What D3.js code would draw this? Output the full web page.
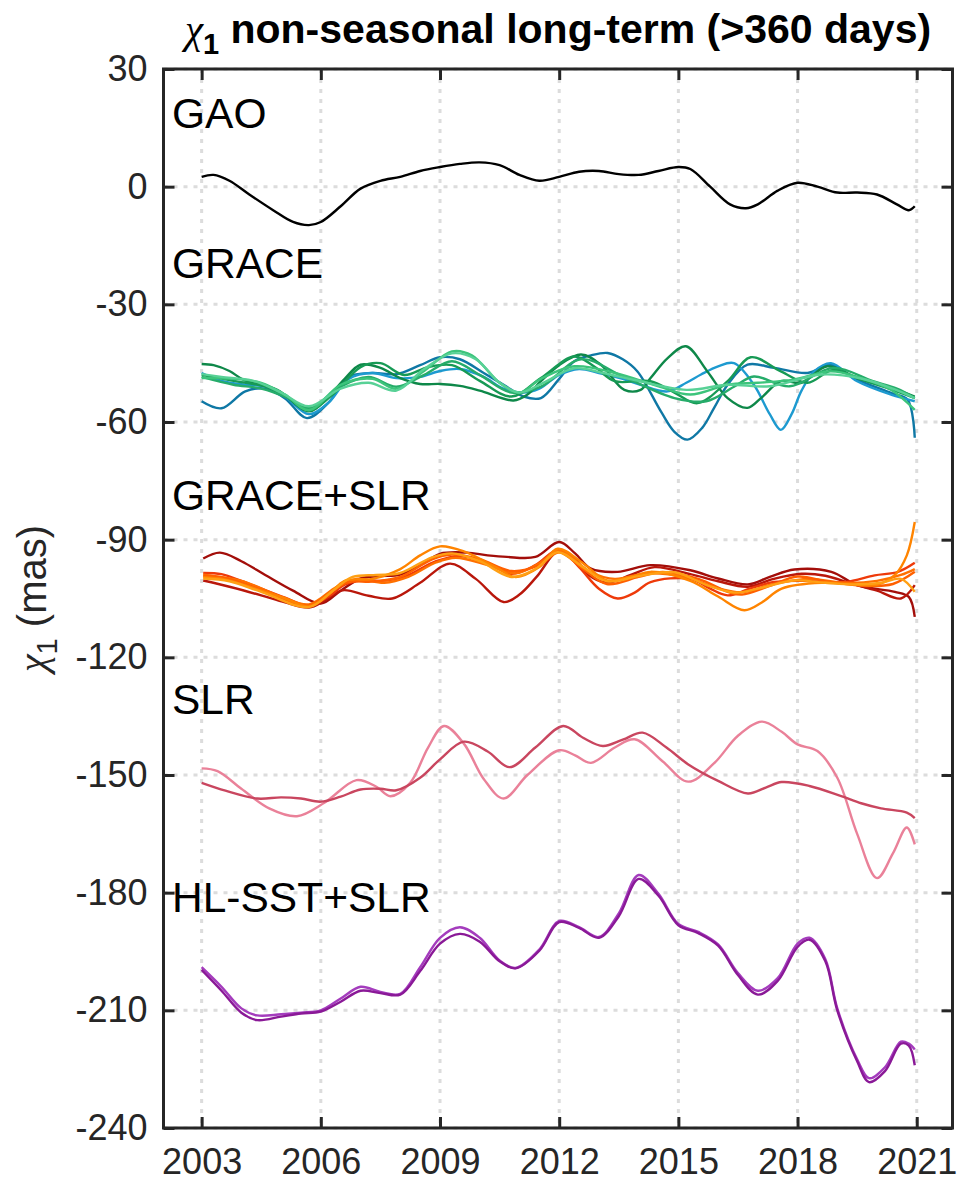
<!DOCTYPE html>
<html>
<head>
<meta charset="utf-8">
<script src="https://cdn.jsdelivr.net/npm/d3@7"></script>
<style>
  body { margin: 0; background: #fff; }
  text { font-family: "Liberation Sans", Arial, Helvetica, sans-serif; }
</style>
</head>
<body>
<svg id="chart"></svg>
<script>
// tick values
const xTicks = [2003, 2006, 2009, 2012, 2015, 2018, 2021];
const yTicks = [30, 0, -30, -60, -90, -120, -150, -180, -210, -240];
const groupNames = ["GAO", "GRACE", "GRACE+SLR", "SLR", "HL-SST+SLR"];

// GAO
const gao = [[2003.0,2.5],[2003.3,3.0],[2003.7,1.5],[2004.2,-2],[2004.8,-6],[2005.3,-9],[2005.7,-9.8],
  [2006.0,-9],[2006.5,-5],[2007.0,-0.5],[2007.5,1.5],[2008.0,2.5],[2008.5,4],[2009.0,5],[2009.5,5.8],
  [2010.0,6.2],[2010.5,5.5],[2011.0,3],[2011.5,1.5],[2012.0,2.5],[2012.5,3.8],[2013.0,4],[2013.5,3.2],
  [2014.0,3.0],[2014.5,4],[2015.0,5],[2015.3,4.5],[2015.8,0],[2016.3,-4.5],[2016.7,-5.5],[2017.0,-4.5],
  [2017.5,-1],[2018.0,1],[2018.5,0],[2019.0,-1.5],[2019.5,-1.5],[2020.0,-2],[2020.5,-4.5],[2020.8,-6],[2020.95,-5]];

// GRACE solutions
const grace1 = [[2003.0,-54.7],[2003.5,-56.5],[2004.1,-52.2],[2004.6,-51.5],[2005.1,-54],[2005.65,-59],[2006.2,-55],
  [2006.7,-48.5],[2007.3,-47.5],[2007.9,-47.8],[2008.5,-45.5],[2009.0,-43.5],[2009.5,-44],[2010.1,-47.5],[2010.6,-50.5],
  [2011.1,-53.5],[2011.54,-53.9],[2012.0,-49],[2012.38,-44.5],[2012.8,-43],[2013.22,-42.4],[2013.6,-44],[2013.97,-47.1],
  [2014.56,-57.3],[2014.9,-62.5],[2015.23,-64.5],[2015.6,-61.5],[2015.9,-56.4],[2016.24,-50.5],[2016.74,-45.4],
  [2017.41,-46.2],[2018.25,-47.5],[2018.84,-45.4],[2019.42,-48.8],[2020.35,-52.6],[2020.77,-54.3],[2020.95,-64]];
const grace2 = [[2003.0,-47.5],[2003.5,-49.5],[2004.1,-50.5],[2004.6,-51],[2005.1,-53.5],[2005.7,-58],[2006.2,-55],
  [2006.7,-49],[2007.3,-47.5],[2007.9,-48.8],[2008.5,-48.5],[2009.0,-47],[2009.5,-46.5],[2010.1,-48.5],[2010.6,-51.5],
  [2011.1,-52.5],[2011.5,-51.5],[2012.0,-48],[2012.5,-46.5],[2013.0,-47.5],[2013.6,-49],[2014.05,-50.5],[2014.73,-52.2],
  [2015.2,-50],[2015.57,-47.9],[2016.0,-45.8],[2016.4,-45],[2016.9,-50.5],[2017.3,-58],[2017.58,-62],[2017.85,-58],
  [2018.1,-52],[2018.42,-47.1],[2018.84,-45],[2019.5,-49.6],[2020.35,-53],[2020.95,-54.7]];
const grace3 = [[2003.0,-45.2],[2003.3,-45.5],[2003.7,-47],[2004.05,-49.2],[2004.9,-51.8],[2005.7,-57.3],[2006.15,-54],
  [2006.6,-49],[2007.0,-45.4],[2007.5,-46.2],[2008.0,-48.8],[2008.5,-50.3],[2009.0,-50.3],[2009.5,-50.8],[2010.0,-52],
  [2010.85,-54.5],[2011.2,-53],[2011.54,-49.6],[2012.0,-45.5],[2012.55,-42.8],[2013.05,-45.4],[2013.64,-51.8],
  [2014.05,-51.8],[2014.3,-48.8],[2014.73,-43.7],[2015.19,-40.7],[2015.73,-47.1],[2016.24,-53.9],[2016.74,-56.4],
  [2017.08,-53.9],[2017.58,-49.6],[2018.1,-50],[2018.75,-45.8],[2019.5,-48.8],[2020.35,-51.3],[2020.95,-53.5]];
const grace4 = [[2003.0,-48],[2003.8,-49.5],[2004.6,-51],[2005.2,-54],[2005.7,-57],[2006.3,-53],[2007.0,-46],[2007.5,-45],
  [2008.1,-48],[2008.7,-46],[2009.3,-45.5],[2010.0,-49.5],[2010.8,-53.5],[2011.54,-48.8],[2012.38,-43.3],[2012.9,-46],
  [2013.4,-49.6],[2014.3,-49.6],[2014.9,-52.5],[2015.48,-55.2],[2016.24,-49.6],[2016.82,-43.5],[2017.58,-47.1],
  [2018.25,-50],[2018.9,-46.7],[2019.6,-49.2],[2020.3,-51.5],[2020.95,-53.9]];
const grace5 = [[2003.0,-48.5],[2003.8,-50.5],[2004.5,-51.5],[2005.2,-54],[2005.7,-56.5],[2006.5,-51],[2007.2,-48.5],
  [2007.9,-51],[2008.6,-48],[2009.3,-44.5],[2010.0,-48],[2010.8,-52.5],[2011.54,-51],[2012.55,-44],[2013.6,-48.4],
  [2014.9,-53.9],[2015.7,-54.7],[2016.4,-51],[2016.9,-48.4],[2017.8,-50.9],[2018.9,-46.2],[2019.9,-49.6],[2020.5,-51.5],[2020.95,-53.9]];
const grace6 = [[2003.0,-48.8],[2003.8,-49],[2004.5,-50],[2005.1,-53],[2005.7,-57],[2006.5,-50.5],[2007.3,-49],
  [2007.9,-51.5],[2008.6,-47],[2009.3,-42],[2009.8,-43],[2010.5,-50],[2011.0,-52.5],[2011.54,-49],[2012.38,-45.8],
  [2013.4,-47.5],[2014.5,-50.9],[2015.3,-53],[2016.24,-50.5],[2017.0,-50],[2017.9,-49.2],[2018.84,-47.1],[2019.6,-48.8],
  [2020.35,-51.8],[2020.95,-56.9]];
const grace7 = [[2003.0,-47.8],[2003.5,-48.5],[2004.3,-49.5],[2005.0,-52.5],[2005.7,-56],[2006.5,-51.5],[2007.2,-50],
  [2007.9,-52],[2008.6,-46.5],[2009.3,-42.5],[2009.9,-44],[2010.5,-50],[2011.0,-52.5],[2011.6,-50],[2012.38,-46.3],
  [2013.1,-47.5],[2013.9,-49.3],[2015.2,-51.8],[2016.24,-50.5],[2017.3,-50.9],[2018.6,-47.9],[2019.6,-48.9],[2020.4,-51.5],[2020.95,-53.9]];

// GRACE+SLR solutions
const combo1 = [[2003.04,-94.8],[2003.46,-93.3],[2004.0,-95.5],[2004.6,-99],[2005.3,-103],[2006.0,-106.3],[2006.5,-103],
  [2007.0,-99.9],[2007.5,-99.3],[2008.0,-98.9],[2008.5,-96.5],[2009.0,-93.6],[2009.67,-93.3],[2010.2,-94],[2010.68,-94.4],
  [2011.4,-94.4],[2012.0,-90.6],[2012.4,-93.5],[2012.8,-97.4],[2013.47,-98.2],[2014.3,-96.5],[2015.3,-97.8],[2016.0,-99.9],
  [2016.75,-101.4],[2017.3,-99.5],[2017.92,-97.6],[2018.85,-98.2],[2019.5,-101.6],[2020.45,-103.3],[2020.8,-104.6],[2020.95,-109.7]];
const combo2 = [[2003.04,-100.4],[2003.7,-102],[2004.5,-104.2],[2005.1,-106],[2005.7,-107.3],[2006.1,-105.5],[2006.55,-102.9],
  [2007.2,-104.3],[2007.8,-105],[2008.5,-101],[2009.25,-96.1],[2009.9,-100],[2010.6,-105.9],[2011.0,-104],[2011.43,-99.5],
  [2012.0,-92.7],[2012.4,-95],[2012.7,-98.7],[2013.2,-101],[2013.8,-99],[2014.4,-97],[2015.3,-98.8],[2016.0,-100.6],
  [2016.75,-102],[2017.4,-100],[2018.1,-98.7],[2018.7,-99.2],[2019.35,-101.2],[2020.0,-103],[2020.6,-105],[2020.95,-101.6]];
const combo3 = [[2003.04,-98.5],[2003.5,-98.8],[2004.0,-100.5],[2004.5,-102.5],[2005.1,-104.8],[2005.7,-106.8],[2006.2,-104.5],
  [2006.6,-101.5],[2007.1,-100.3],[2007.5,-100.5],[2008.1,-99.5],[2008.9,-95.5],[2009.5,-94.2],[2010.2,-96],[2010.8,-98.7],
  [2011.4,-96.5],[2012.0,-92.5],[2012.5,-97],[2013.0,-102.5],[2013.47,-105],[2013.9,-103.5],[2014.3,-100.8],[2015.3,-100],
  [2015.8,-102.5],[2016.24,-104.2],[2016.8,-102.5],[2017.4,-100.8],[2018.2,-100.5],[2019.2,-100.8],[2019.94,-99.1],
  [2020.53,-98.2],[2020.95,-95.9]];
const combo4 = [[2003.04,-98.9],[2004.0,-100.5],[2005.0,-104.5],[2005.7,-106.5],[2006.4,-102],[2006.9,-100],[2007.6,-101],
  [2008.2,-99.5],[2008.9,-95.8],[2009.4,-94.6],[2010.2,-96.5],[2010.9,-98.6],[2011.5,-96],[2012.0,-92.8],[2012.8,-98.3],
  [2013.4,-100],[2014.2,-98.6],[2015.2,-99.6],[2016.0,-102.4],[2016.6,-103.4],[2017.4,-101.3],[2018.3,-100],[2019.2,-101],
  [2020.0,-100.5],[2020.6,-99],[2020.95,-97.5]];
const combo5 = [[2003.04,-99.2],[2003.6,-99.8],[2004.5,-102.8],[2005.7,-106.8],[2006.3,-103],[2006.7,-100.8],[2007.3,-100.7],
  [2008.0,-99.5],[2008.8,-95],[2009.3,-93.8],[2010.0,-95],[2010.8,-98],[2011.5,-96.5],[2012.0,-93.2],[2012.6,-97.5],
  [2013.2,-101.3],[2014.0,-99.5],[2014.6,-98.2],[2015.5,-100],[2016.3,-103.5],[2016.6,-104],[2017.3,-101.8],[2018.0,-99.4],
  [2018.8,-100.8],[2019.7,-101.8],[2020.4,-101.3],[2020.95,-98.2]];
const combo6 = [[2003.04,-99.6],[2003.6,-100.2],[2004.5,-103],[2005.1,-105],[2005.7,-107],[2006.2,-104],[2006.6,-100.5],
  [2007.3,-100],[2008.0,-97.5],[2008.5,-94],[2009.0,-91.7],[2009.6,-93],[2010.4,-97],[2010.9,-99.5],[2011.5,-97],
  [2011.96,-92.3],[2012.6,-96],[2013.2,-100.4],[2013.8,-99.5],[2014.3,-98.2],[2015.3,-100.5],[2016.0,-104.5],[2016.66,-108],
  [2017.1,-106],[2017.6,-102.5],[2018.6,-101],[2019.5,-101.5],[2020.0,-101.5],[2020.45,-99],[2020.75,-94],[2020.95,-85.5]];
const combo7 = [[2003.04,-99.9],[2003.7,-100.6],[2004.5,-103.3],[2005.7,-107.2],[2006.3,-103],[2006.8,-99.5],[2007.4,-99],
  [2008.0,-98.5],[2008.8,-94.5],[2009.3,-93.5],[2010.0,-95.5],[2010.8,-99.5],[2011.4,-97.5],[2011.96,-93.2],[2012.6,-97],
  [2013.2,-100.6],[2014.0,-99.3],[2014.9,-98.3],[2015.7,-101.5],[2016.4,-103.5],[2017.0,-102.5],[2017.9,-100.4],[2018.7,-101],
  [2019.4,-101.4],[2020.1,-101],[2020.6,-100],[2020.95,-103.3]];

// SLR solutions
const slr1 = [[2003.0,-152],[2003.6,-154],[2004.4,-156],[2005.0,-155.7],[2005.5,-156],[2006.0,-156.8],[2006.5,-155.5],
  [2007.0,-153.7],[2007.5,-153.5],[2007.9,-153.9],[2008.5,-150.7],[2009.0,-146],[2009.6,-141.5],[2010.2,-144],
  [2010.75,-148],[2011.4,-143],[2012.1,-137.5],[2012.6,-140.5],[2013.1,-142.6],[2013.6,-141],[2014.1,-139.2],
  [2014.7,-143],[2015.25,-147.3],[2016.0,-151.5],[2016.75,-154.7],[2017.2,-153.2],[2017.6,-151.8],[2018.3,-152.8],
  [2019.1,-155.4],[2019.6,-157.2],[2020.1,-158.5],[2020.75,-159.6],[2020.95,-161]];
const slr2 = [[2003.0,-148.3],[2003.4,-149],[2004.0,-153.5],[2004.7,-158.5],[2005.4,-160.5],[2006.1,-157],[2006.9,-151.3],
  [2007.4,-153],[2007.75,-155.4],[2008.25,-152],[2008.7,-143],[2009.1,-137.5],[2009.6,-142],[2010.1,-151],[2010.6,-156],
  [2011.2,-150],[2012.0,-143.7],[2012.4,-145],[2012.8,-146.9],[2013.4,-143],[2013.9,-140.9],[2014.6,-146.5],
  [2015.25,-151.7],[2015.9,-147],[2016.5,-140],[2017.1,-136.4],[2017.6,-139],[2018.0,-142.2],[2018.5,-143.9],
  [2019.0,-150.7],[2019.5,-165],[2020.0,-176.3],[2020.4,-170],[2020.75,-163.4],[2020.95,-167.7]];

// HL-SST+SLR solutions
const hl1 = [[2003.0,-199.7],[2003.5,-205],[2004.0,-210.6],[2004.4,-212.5],[2005.0,-211.6],[2005.5,-210.8],[2006.0,-210.3],
  [2006.5,-207.8],[2007.0,-205],[2007.5,-205.6],[2008.0,-206],[2008.5,-200],[2009.0,-193],[2009.5,-190.5],[2010.0,-192.5],
  [2010.5,-197.5],[2010.9,-199.3],[2011.5,-194.8],[2012.0,-187.5],[2012.5,-189],[2013.0,-191.5],[2013.5,-186],[2014.0,-176.5],
  [2014.5,-180.8],[2015.0,-188.3],[2015.5,-190.3],[2016.0,-193.5],[2016.5,-201],[2017.0,-206],[2017.5,-202.5],[2018.0,-193.8],
  [2018.3,-192],[2018.7,-197.5],[2019.0,-210],[2019.5,-223],[2019.8,-228.3],[2020.2,-225.5],[2020.6,-218.5],[2020.8,-219],[2020.95,-224]];
const hl2 = [[2003.0,-199],[2003.5,-204],[2004.0,-209.5],[2004.4,-211.3],[2005.0,-211],[2005.5,-210.6],[2006.0,-210],
  [2006.5,-207],[2007.0,-204],[2007.5,-205.3],[2008.0,-205.8],[2008.5,-199],[2009.0,-191.5],[2009.5,-188.8],[2010.0,-191.5],
  [2010.5,-197.3],[2010.9,-199.2],[2011.5,-194.5],[2012.0,-187.2],[2012.5,-188.8],[2013.0,-191.3],[2013.5,-185.3],[2014.0,-175.5],
  [2014.5,-180.3],[2015.0,-188],[2015.5,-190],[2016.0,-193.2],[2016.5,-200.5],[2017.0,-205],[2017.5,-201.8],[2018.0,-193],
  [2018.3,-191.5],[2018.7,-197],[2019.0,-209.5],[2019.5,-222.5],[2019.8,-227.3],[2020.2,-224.5],[2020.6,-218],[2020.8,-218.5],[2020.95,-220]];

const series = [
  { data: grace1, color: "#0f78a5" },
  { data: grace2, color: "#1d9ad0" },
  { data: grace3, color: "#0e8849" },
  { data: grace4, color: "#179a55" },
  { data: grace5, color: "#26ac6a" },
  { data: grace6, color: "#3cc47b" },
  { data: grace7, color: "#58d196" },
  { data: combo1, color: "#a30e0a" },
  { data: combo2, color: "#b9170b" },
  { data: combo3, color: "#ee3a0a" },
  { data: combo4, color: "#ff7000" },
  { data: combo5, color: "#ff6000" },
  { data: combo6, color: "#ff8400" },
  { data: combo7, color: "#ffa014" },
  { data: slr2, color: "#ea8199" },
  { data: slr1, color: "#c9465f" },
  { data: hl2, color: "#a43cbd" },
  { data: hl1, color: "#8a1997" },
  { data: gao, color: "#000000" },
];

const width = 960, height = 1182;
const plotL = 163.5, plotR = 952.5, plotT = 69, plotB = 1128;
const ink = "#262626";

const svg = d3.select("#chart").attr("width", width).attr("height", height);

const x = d3.scaleLinear().domain([2002.04, 2021.9]).range([plotL, plotR]);
const y = d3.scaleLinear().domain([30, -240]).range([plotT, plotB]);

// dotted grid
const grid = svg.append("g");
grid.selectAll(".vg").data(xTicks).join("line").attr("class", "vg")
  .attr("x1", d => x(d)).attr("x2", d => x(d))
  .attr("y1", plotT).attr("y2", plotB);
grid.selectAll(".hg").data(yTicks).join("line").attr("class", "hg")
  .attr("x1", plotL).attr("x2", plotR)
  .attr("y1", d => y(d)).attr("y2", d => y(d));
grid.selectAll("line")
  .attr("stroke", "#dcdcdc").attr("stroke-width", 3).attr("stroke-dasharray", "4,6");

// lines
const line = d3.line()
  .x(d => x(d[0]))
  .y(d => y(d[1]))
  .curve(d3.curveCatmullRom.alpha(0.5));

svg.append("g").selectAll("path").data(series).join("path")
  .attr("d", d => line(d.data))
  .attr("fill", "none")
  .attr("stroke", d => d.color)
  .attr("stroke-width", 2.4)
  .attr("stroke-linejoin", "round");

// axes, ticks pointing inward on all four sides
const styleAxis = (g) => {
  g.select(".domain").remove();
  g.selectAll(".tick line").attr("stroke", ink).attr("stroke-width", 3);
  g.selectAll("text").attr("fill", ink).style("font-size", "36px");
};

svg.append("g").attr("transform", `translate(0,${plotB})`)
  .call(d3.axisBottom(x).tickValues(xTicks).tickFormat(d => String(d)).tickSize(-11).tickPadding(20))
  .call(styleAxis);
svg.append("g").attr("transform", `translate(0,${plotT})`)
  .call(d3.axisTop(x).tickValues(xTicks).tickFormat("").tickSize(-11))
  .call(styleAxis);
svg.append("g").attr("transform", `translate(${plotL},0)`)
  .call(d3.axisLeft(y).tickValues(yTicks).tickFormat(d => String(d)).tickSize(-11).tickPadding(16))
  .call(styleAxis);
svg.append("g").attr("transform", `translate(${plotR},0)`)
  .call(d3.axisRight(y).tickValues(yTicks).tickFormat("").tickSize(-11))
  .call(styleAxis);

// box
svg.append("rect")
  .attr("x", plotL).attr("y", plotT)
  .attr("width", plotR - plotL).attr("height", plotB - plotT)
  .attr("fill", "none").attr("stroke", ink).attr("stroke-width", 3);

// group labels, anchored at a value on the y scale
const labelValues = [15, -23.3, -82.4, -134.5, -185];
svg.append("g").selectAll("text").data(groupNames).join("text")
  .attr("x", 172)
  .attr("y", (d, i) => y(labelValues[i]))
  .attr("fill", "#000")
  .style("font-size", "42.5px")
  .text(d => d);

// title
const title = svg.append("text")
  .attr("x", (plotL + plotR) / 2).attr("y", 43)
  .attr("text-anchor", "middle")
  .attr("fill", "#000")
  .style("font-size", "41px").style("font-weight", "bold");
title.append("tspan").text("χ")
  .style("font-family", "'Liberation Serif', 'DejaVu Serif', serif")
  .style("font-style", "italic").style("font-weight", "normal");
title.append("tspan").text("1").attr("dy", 11).style("font-size", "29px");
title.append("tspan").text(" non-seasonal long-term (>360 days)").attr("dy", -11);

// y label
const ylab = svg.append("text")
  .attr("transform", `translate(46,${(plotT + plotB) / 2}) rotate(-90)`)
  .attr("text-anchor", "middle")
  .attr("fill", ink)
  .style("font-size", "40px");
ylab.append("tspan").text("χ")
  .style("font-family", "'Liberation Serif', 'DejaVu Serif', serif")
  .style("font-style", "italic");
ylab.append("tspan").text("1").attr("dy", 11).style("font-size", "29px");
ylab.append("tspan").text(" (mas)").attr("dy", -11);
</script>
</body>
</html>
